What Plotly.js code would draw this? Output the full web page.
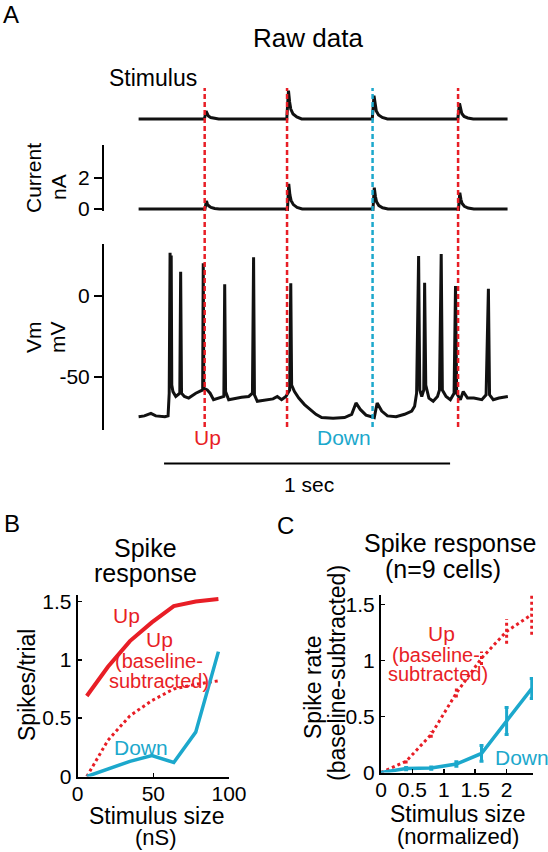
<!DOCTYPE html>
<html><head><meta charset="utf-8">
<script src="https://cdn.plot.ly/plotly-3.0.1.min.js"></script>
<style>html,body{margin:0;padding:0;background:#fff}#chart{width:548px;height:852px}</style>
</head><body><div id="chart"></div>
<script>
// ---------- Panel A: raw traces (time in ms) ----------
const stimTimes = [231, 519, 818, 1117];           // dashed lines
const stimKinds = ['Up', 'Up', 'Down', 'Up'];
const stimT = [0, 230, 236, 240, 244, 252, 265, 280, 518, 524, 528, 532, 540, 553, 570, 817, 823, 827, 831, 839, 852, 870, 1116, 1122, 1126, 1130, 1138, 1151, 1170, 1290];
const stimV = [0, 0, 8, 5, 3, 1.5, 0.5, 0, 0, 28.3, 17, 10, 5, 2, 0, 0, 23.3, 14, 8, 4, 1.5, 0, 0, 15.7, 9, 5.5, 2.5, 1, 0, 0];
const curT = [0, 229, 231, 237, 241, 245, 253, 266, 282, 517, 520, 525, 529, 533, 541, 554, 572, 816, 819, 824, 828, 832, 840, 853, 872, 1115, 1118, 1123, 1127, 1131, 1139, 1152, 1172, 1290];
const curV = [0, 0, -0.1, 0.51, 0.3, 0.2, 0.1, 0.03, 0, 0, -0.2, 1.6, 0.9, 0.55, 0.28, 0.1, 0, 0, -0.15, 1.36, 0.8, 0.45, 0.22, 0.08, 0, 0, -0.12, 1.04, 0.6, 0.35, 0.17, 0.06, 0, 0];
const vmT = [0, 20, 43, 60, 92, 103, 107, 110, 112, 114, 116, 120, 130, 144, 147, 150, 160, 175, 200, 215, 224, 226, 228, 240, 250, 262, 280, 298, 301, 304, 315, 340, 360, 385, 398, 402, 405, 415, 440, 470, 485, 500, 515, 528, 532, 535, 545, 560, 580, 600, 620, 640, 680, 720, 745, 760, 775, 795, 815, 824, 834, 850, 870, 900, 930, 955, 965, 972, 979, 983, 990, 997, 1000, 1004, 1015, 1030, 1045, 1052, 1058, 1062, 1075, 1090, 1103, 1108, 1112, 1125, 1135, 1150, 1172, 1200, 1215, 1223, 1227, 1240, 1260, 1275, 1291];
const vmV = [-74.5, -74, -72.4, -74, -74.5, -74, -60, 26.7, -56, 25, -55, -59, -62, -60, 15, -60, -62, -63, -60, -58.5, -58, 20.2, -57, -58, -60, -64, -63, -62, 7.2, -59, -64, -63, -62.5, -62, -60, 23.9, -61, -65, -64.5, -63.5, -62, -64, -62, -58, 7.8, -55, -59, -63, -67, -70, -73, -75, -75.5, -75, -73, -66, -70, -73.5, -74.5, -75, -66, -71, -74, -74.5, -73, -71, -68, -60, 24.7, -58, -62, -58, 8.2, -55, -63, -65, -62, -58, 25.9, -58, -62, -64, -60, 6.2, -60, -64, -59, -63, -63, -64, -61, 4.5, -61, -64, -63, -62.5, -62];
const scaleBar = [89, 1089];   // 1 sec

// ---------- Panel B ----------
const bX = [6, 20, 34.5, 49, 63.5, 78, 93];
const bUp = [0.69, 0.94, 1.16, 1.32, 1.46, 1.50, 1.52];
const bUpSub = [0, 0.31, 0.52, 0.65, 0.75, 0.79, 0.82];
const bDown = [0, 0.06, 0.13, 0.18, 0.12, 0.38, 1.07];

// ---------- Panel C ----------
const cX = [0, 0.4, 0.8, 1.2, 1.6, 2.0, 2.4];
const cUp = [0, 0.10, 0.34, 0.71, 1.02, 1.26, 1.41];
const cUpErr = [0, 0.02, 0.03, 0.04, 0.06, 0.11, 0.18];
const cDown = [0, 0.035, 0.04, 0.075, 0.17, 0.46, 0.75];
const cDownErr = [0, 0.01, 0.01, 0.02, 0.07, 0.12, 0.09];

const RED = 'rgb(232,30,38)', BLUE = 'rgb(28,168,204)', BLK = '#111';
const W = 548, H = 852;
const fx = p => p / W, fy = p => 1 - p / H;
const FONT = 'Liberation Sans, Arial, Helvetica, sans-serif';

// dotted red error bars for panel C, built from the data arrays
const upErrX = [], upErrY = [];
cX.forEach((x, i) => { if (cUpErr[i] > 0) { upErrX.push(x, x, null); upErrY.push(cUp[i] - cUpErr[i], cUp[i] + cUpErr[i], null); } });

const traces = [
  {x: stimT, y: stimV, xaxis: 'x', yaxis: 'y', mode: 'lines', line: {color: BLK, width: 3}},
  {x: curT, y: curV, xaxis: 'x', yaxis: 'y2', mode: 'lines', line: {color: BLK, width: 3}},
  {x: vmT, y: vmV, xaxis: 'x', yaxis: 'y3', mode: 'lines', line: {color: BLK, width: 3}},
  {x: bX, y: bUp, xaxis: 'x2', yaxis: 'y4', mode: 'lines', line: {color: RED, width: 4}},
  {x: bX, y: bUpSub, xaxis: 'x2', yaxis: 'y4', mode: 'lines', line: {color: RED, width: 3, dash: '3px,3px'}},
  {x: bX, y: bDown, xaxis: 'x2', yaxis: 'y4', mode: 'lines', line: {color: BLUE, width: 3.5}},
  {x: cX, y: cUp, xaxis: 'x3', yaxis: 'y5', mode: 'lines', line: {color: RED, width: 3, dash: '3px,3px'}},
  {x: upErrX, y: upErrY, xaxis: 'x3', yaxis: 'y5', mode: 'lines', line: {color: RED, width: 3, dash: '3px,3px'}},
  {x: cX, y: cDown, xaxis: 'x3', yaxis: 'y5', mode: 'lines', line: {color: BLUE, width: 3.5},
   error_y: {type: 'data', array: cDownErr, color: BLUE, thickness: 3, width: 2}}
];

const tf = {family: FONT, size: 21, color: '#000'};
const axisA = (dom, rng, vals) => ({domain: dom, range: rng, anchor: 'x', showline: true, linewidth: 2, linecolor: '#000',
  ticks: 'outside', ticklen: 8, tickwidth: 2, tickcolor: '#000', tickvals: vals, ticktext: vals.map(String),
  showgrid: false, zeroline: false, tickfont: tf, fixedrange: true});
const lineAx = (extra) => Object.assign({showline: true, linewidth: 2, linecolor: '#000', ticks: 'inside', ticklen: 4,
  tickwidth: 1.5, tickcolor: '#000', showgrid: false, zeroline: false, tickfont: tf, mirror: false}, extra);

const shapes = stimTimes.map((t, i) => ({type: 'line', xref: 'x', yref: 'paper', x0: t, x1: t, y0: fy(427), y1: fy(88),
  line: {color: stimKinds[i] === 'Up' ? RED : BLUE, width: 2.5, dash: '5px,3px'}}));
shapes.push({type: 'line', xref: 'x', yref: 'paper', x0: scaleBar[0], x1: scaleBar[1], y0: fy(463.5), y1: fy(463.5),
  line: {color: '#000', width: 2}});

const ann = (text, x, y, size, color, extra) => Object.assign({text: text, xref: 'paper', yref: 'paper', x: fx(x), y: fy(y),
  xanchor: 'center', yanchor: 'middle', showarrow: false, font: {family: FONT, size: size, color: color || '#000'}}, extra || {});

const annotations = [
  ann('A', 11, 15, 24), ann('B', 12, 523, 24), ann('C', 285, 525, 24),
  ann('Raw data', 308, 38, 26),
  ann('Stimulus', 153, 78, 23),
  ann('Current', 33, 178, 21, '#000', {textangle: -90}),
  ann('nA', 58, 187, 21, '#000', {textangle: -90}),
  ann('Vm', 33, 337, 21, '#000', {textangle: -90}),
  ann('mV', 57, 337, 21, '#000', {textangle: -90}),
  ann('Up', 207, 437, 21, RED), ann('Down', 344, 437, 21, BLUE),
  ann('1 sec', 309, 485, 21),
  // Panel B
  ann('Spike', 145, 548, 25), ann('response', 145, 573, 25),
  ann('Spikes/trial', 27, 685, 23, '#000', {textangle: -90}),
  ann('Stimulus size', 156, 816, 23), ann('(nS)', 156, 837, 22),
  ann('Up', 126, 615, 21, RED), ann('Up', 159, 639, 21, RED),
  ann('(baseline-', 159, 661, 20, RED), ann('subtracted)', 159, 681, 20, RED),
  ann('Down', 141, 747, 21, BLUE),
  // Panel C
  ann('Spike response', 450, 543, 25), ann('(n=9 cells)', 443, 569, 25),
  ann('Spike rate', 313, 687, 23, '#000', {textangle: -90}),
  ann('(baseline-subtracted)', 337, 673, 23, '#000', {textangle: -90}),
  ann('Stimulus size', 457, 814, 23), ann('(normalized)', 458, 836, 22),
  ann('Up', 441, 633, 21, RED), ann('(baseline-', 436, 655, 20, RED), ann('subtracted)', 438, 674, 20, RED),
  ann('Down', 493, 757, 21, BLUE, {xanchor: 'left'})
];

const layout = {
  width: W, height: H, margin: {l: 0, r: 0, t: 0, b: 0}, paper_bgcolor: '#fff', plot_bgcolor: 'rgba(0,0,0,0)',
  showlegend: false, font: {family: FONT, color: '#000'},
  xaxis: {domain: [fx(104), fx(515)], range: [-121, 1316], visible: false, anchor: 'y3', fixedrange: true},
  yaxis: {domain: [fy(125), fy(80)], range: [-6, 39], visible: false, anchor: 'x', fixedrange: true},
  yaxis2: axisA([fy(211), fy(145)], [-0.13, 4.09], [0, 2]),
  yaxis3: axisA([fy(430), fy(244)], [-82.7, 32.1], [-50, 0]),
  xaxis2: lineAx({domain: [fx(77.7), fx(229)], range: [0, 100], anchor: 'y4', tickvals: [0, 50, 100], ticklabelstandoff: -3}),
  yaxis4: lineAx({domain: [fy(776.5), fy(595)], range: [0, 1.555], anchor: 'x2', tickvals: [0, 0.5, 1, 1.5], ticktext: ['0', '0.5', '1', '1.5']}),
  xaxis3: lineAx({domain: [fx(381), fx(533)], range: [0, 2.42], anchor: 'y5', tickvals: [0, 0.5, 1, 1.5, 2], ticktext: ['0', '0.5', '1', '1.5', '2'], ticklabelstandoff: -3}),
  yaxis5: lineAx({domain: [fy(772.5), fy(595)], range: [0, 1.585], anchor: 'x3', tickvals: [0, 0.5, 1, 1.5], ticktext: ['0', '0.5', '1', '1.5']}),
  shapes: shapes, annotations: annotations
};

Plotly.newPlot('chart', traces, layout, {staticPlot: true, displayModeBar: false});
</script></body></html>
